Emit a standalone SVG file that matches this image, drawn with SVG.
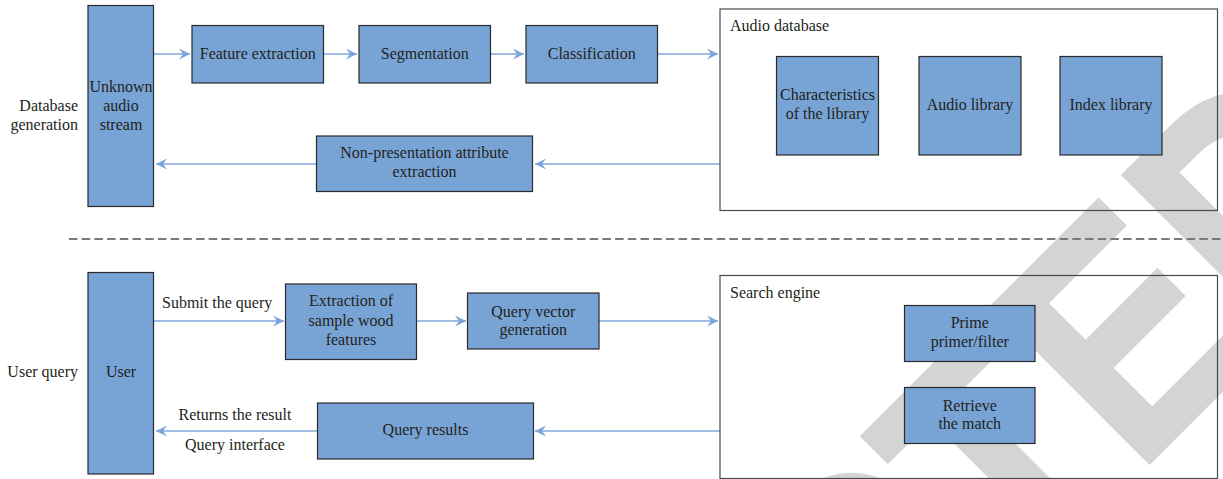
<svg xmlns="http://www.w3.org/2000/svg" width="1223" height="479" viewBox="0 0 1223 479">
  <style>
    .box { fill: #78a4d5; stroke: #2a2a2a; stroke-width: 1.2; }
    .frame { fill: none; stroke: #4a4a4a; stroke-width: 1.2; }
    .lbl { font-family: "Liberation Serif", "Times New Roman", serif; font-size: 16px; fill: #231f20; }
    .mid { text-anchor: middle; }
    .end { text-anchor: end; }
    .conn { stroke: #82a7dc; stroke-width: 1.3; fill: none; marker-end: url(#ah); }
    .wm { font-family: "Liberation Sans", Arial, sans-serif; font-weight: bold; font-size: 322px; fill: #d4d4d4; stroke: #d4d4d4; stroke-width: 4; font-kerning: none; }
  </style>
  <defs>
    <marker id="ah" viewBox="-12 -6 12 12" refX="0" refY="0" markerWidth="12" markerHeight="12" markerUnits="userSpaceOnUse" orient="auto">
      <path d="M0,0 L-11,-5.5 L-7,0 L-11,5.5 Z" fill="#7ea3db"/>
    </marker>
  </defs>

  <rect width="1223" height="479" fill="#ffffff"/>

  <!-- diagonal watermark, drawn first so the diagram sits on top -->
  <text class="wm" transform="translate(201,1411) rotate(-45) scale(0.86,1)">RETRACTED</text>

  <!-- section divider -->
  <line x1="69" y1="239" x2="1223" y2="239" stroke="#7a7a7a" stroke-width="2" stroke-dasharray="8.5 4.2"/>

  <!-- side labels -->
  <text class="lbl end" x="78" y="110.5">Database</text>
  <text class="lbl end" x="78" y="129.5">generation</text>
  <text class="lbl end" x="78" y="377">User query</text>

  <!-- connectors -->
  <g id="connectors">
    <line class="conn" x1="154" y1="54" x2="190" y2="54"/>
    <line class="conn" x1="324" y1="54" x2="357" y2="54"/>
    <line class="conn" x1="491" y1="54" x2="524" y2="54"/>
    <line class="conn" x1="658" y1="54" x2="718" y2="54"/>
    <line class="conn" x1="720" y1="164" x2="535" y2="164"/>
    <line class="conn" x1="316" y1="164" x2="156" y2="164"/>
    <line class="conn" x1="154" y1="321" x2="284" y2="321"/>
    <line class="conn" x1="417" y1="321" x2="466" y2="321"/>
    <line class="conn" x1="599" y1="321" x2="718" y2="321"/>
    <line class="conn" x1="720" y1="431" x2="535" y2="431"/>
    <line class="conn" x1="317" y1="431" x2="156" y2="431"/>
    <text class="lbl" x="162" y="308">Submit the query</text>
    <text class="lbl mid" x="235" y="420">Returns the result</text>
    <text class="lbl mid" x="235" y="450">Query interface</text>
  </g>

  <!-- database generation -->
  <g id="unknown-stream">
    <rect class="box" x="88" y="5.5" width="65.5" height="201"/>
    <text class="lbl mid" x="121" y="91.5">Unknown</text>
    <text class="lbl mid" x="121" y="110.5">audio</text>
    <text class="lbl mid" x="121" y="129.5">stream</text>
  </g>
  <g id="feature-extraction">
    <rect class="box" x="192" y="25.5" width="131.5" height="57.5"/>
    <text class="lbl mid" x="257.75" y="58.5">Feature extraction</text>
  </g>
  <g id="segmentation">
    <rect class="box" x="359" y="25.5" width="131.5" height="57.5"/>
    <text class="lbl mid" x="424.75" y="58.5">Segmentation</text>
  </g>
  <g id="classification">
    <rect class="box" x="526" y="25.5" width="131.5" height="57.5"/>
    <text class="lbl mid" x="591.75" y="58.5">Classification</text>
  </g>
  <g id="non-presentation">
    <rect class="box" x="316.5" y="136" width="216" height="55.5"/>
    <text class="lbl mid" x="424.5" y="158">Non-presentation attribute</text>
    <text class="lbl mid" x="424.5" y="177">extraction</text>
  </g>
  <g id="audio-database">
    <rect class="frame" x="720" y="9" width="497.5" height="201.5"/>
    <text class="lbl" x="730" y="30.5">Audio database</text>
  </g>
  <g id="characteristics">
    <rect class="box" x="776.5" y="56.5" width="102" height="98.5"/>
    <text class="lbl mid" x="827.5" y="100">Characteristics</text>
    <text class="lbl mid" x="827.5" y="119">of the library</text>
  </g>
  <g id="audio-library">
    <rect class="box" x="919" y="56.5" width="102" height="98.5"/>
    <text class="lbl mid" x="970" y="110">Audio library</text>
  </g>
  <g id="index-library">
    <rect class="box" x="1060" y="56.5" width="102" height="98.5"/>
    <text class="lbl mid" x="1111" y="110">Index library</text>
  </g>

  <!-- user query -->
  <g id="user">
    <rect class="box" x="88" y="272.5" width="65.5" height="201.5"/>
    <text class="lbl mid" x="121" y="377">User</text>
  </g>
  <g id="sample-features">
    <rect class="box" x="285.5" y="284" width="131" height="75.5"/>
    <text class="lbl mid" x="351" y="306">Extraction of</text>
    <text class="lbl mid" x="351" y="325.5">sample wood</text>
    <text class="lbl mid" x="351" y="344.5">features</text>
  </g>
  <g id="query-vector">
    <rect class="box" x="467.5" y="293" width="131.5" height="56"/>
    <text class="lbl mid" x="533.25" y="316.5">Query vector</text>
    <text class="lbl mid" x="533.25" y="335">generation</text>
  </g>
  <g id="query-results">
    <rect class="box" x="317.5" y="403" width="216" height="56"/>
    <text class="lbl mid" x="425.5" y="435">Query results</text>
  </g>
  <g id="search-engine">
    <rect class="frame" x="720" y="275.5" width="497.5" height="203"/>
    <text class="lbl" x="730" y="298">Search engine</text>
  </g>
  <g id="prime-filter">
    <rect class="box" x="904.5" y="305.5" width="130.5" height="56"/>
    <text class="lbl mid" x="969.75" y="328">Prime</text>
    <text class="lbl mid" x="969.75" y="347">primer/filter</text>
  </g>
  <g id="retrieve-match">
    <rect class="box" x="904.5" y="387.5" width="130.5" height="56"/>
    <text class="lbl mid" x="969.75" y="410.5">Retrieve</text>
    <text class="lbl mid" x="969.75" y="428.5">the match</text>
  </g>
</svg>
